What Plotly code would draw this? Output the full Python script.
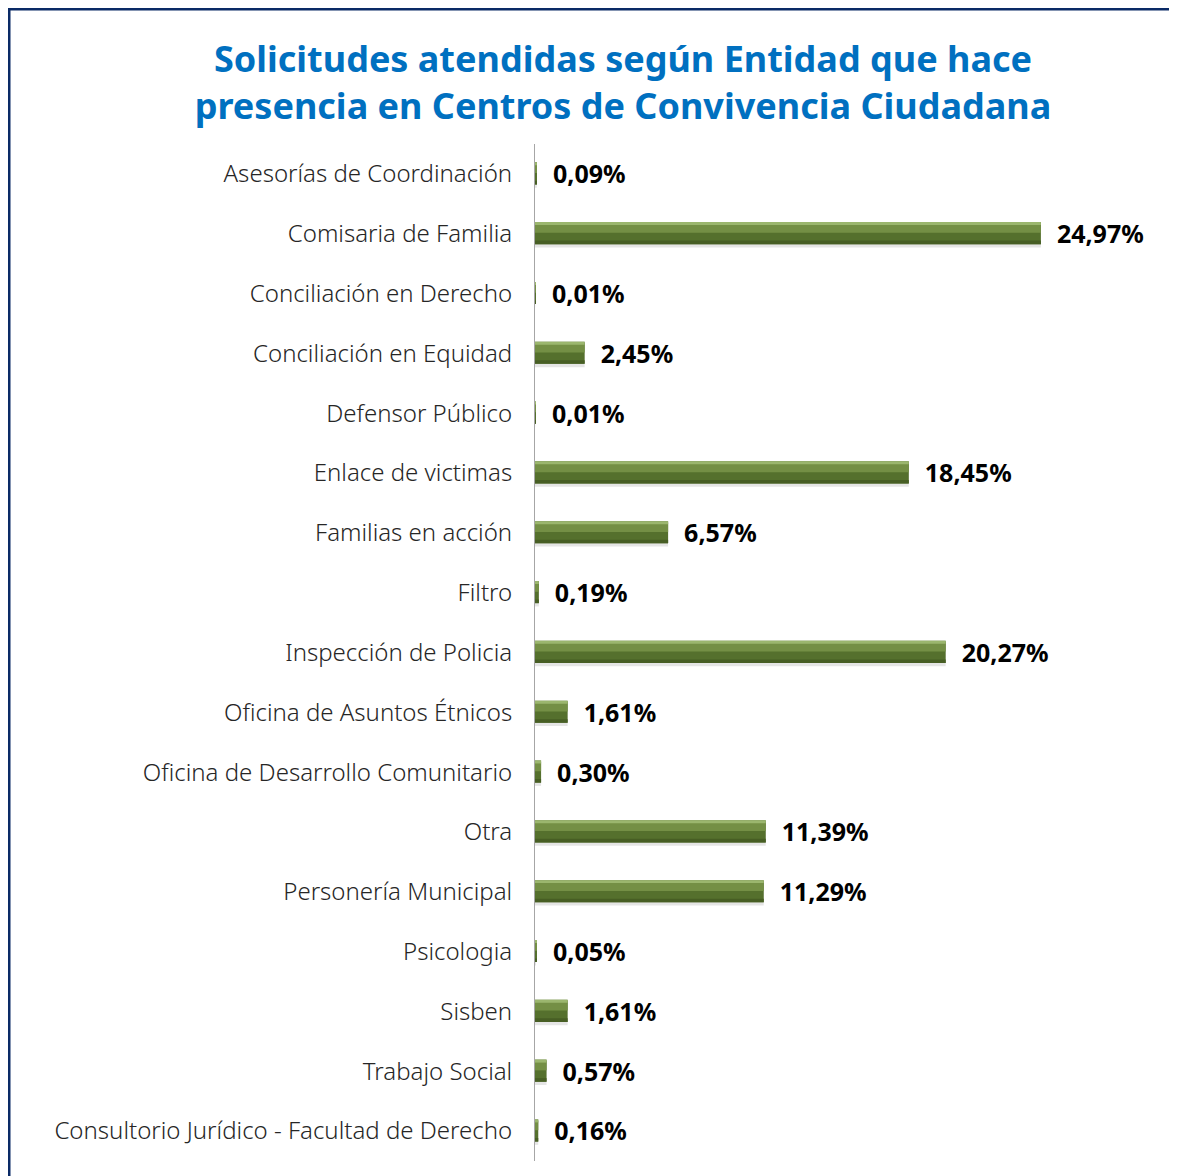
import plotly.graph_objects as go

categories = [
    "Asesorías de Coordinación",
    "Comisaria de Familia",
    "Conciliación en Derecho",
    "Conciliación en Equidad",
    "Defensor Público",
    "Enlace de victimas",
    "Familias en acción",
    "Filtro",
    "Inspección de Policia",
    "Oficina de Asuntos Étnicos",
    "Oficina de Desarrollo Comunitario",
    "Otra",
    "Personería Municipal",
    "Psicologia",
    "Sisben",
    "Trabajo Social",
    "Consultorio Jurídico - Facultad de Derecho",
]
values = [0.09, 24.97, 0.01, 2.45, 0.01, 18.45, 6.57, 0.19, 20.27, 1.61,
          0.30, 11.39, 11.29, 0.05, 1.61, 0.57, 0.16]

title_text = ("Solicitudes atendidas según Entidad que hace<br>"
              "presencia en Centros de Convivencia Ciudadana")

# page has an 8px body margin; work in reference-pixel coords shifted by OFF
OFF = 8
W, H = 1177 - OFF, 1176 - OFF
ML, MR, MT, MB = 535 - OFF, 17, 144 - OFF, 15
PW, PH = W - ML - MR, H - MT - MB
PX_PER_UNIT = 20.26
XMAX = PW / PX_PER_UNIT


def px(xref):
    return (xref - OFF - ML) / PW


def py(yref):
    return (H - MB - (yref - OFF)) / PH


fig = go.Figure()

# soft shadow under bars
fig.add_trace(go.Bar(
    y=categories, x=values, orientation="h",
    width=0.40, offset=-0.17,
    marker=dict(color="rgba(0,0,0,0.10)", line=dict(width=0)),
    hoverinfo="skip", showlegend=False,
))
# base bar
fig.add_trace(go.Bar(
    y=categories, x=values, orientation="h",
    width=0.37, offset=-0.195,
    marker=dict(color="#55702D", line=dict(width=0)),
    text=values, texttemplate="\u00a0\u00a0%{x:.2f}%",
    textposition="outside", cliponaxis=False, constraintext="none",
    textfont=dict(family="Noto Sans", size=25, color="#000000", weight="bold"),
    showlegend=False,
))
# mid highlight band
fig.add_trace(go.Bar(
    y=categories, x=values, orientation="h",
    width=0.16, offset=-0.175,
    marker=dict(color="#748F45", line=dict(width=0)),
    hoverinfo="skip", showlegend=False,
))
# top light edge
fig.add_trace(go.Bar(
    y=categories, x=values, orientation="h",
    width=0.05, offset=-0.195,
    marker=dict(color="#9BB66E", line=dict(width=0)),
    hoverinfo="skip", showlegend=False,
))
# bottom dark edge
fig.add_trace(go.Bar(
    y=categories, x=values, orientation="h",
    width=0.06, offset=0.115,
    marker=dict(color="#475E24", line=dict(width=0)),
    hoverinfo="skip", showlegend=False,
))

fig.update_layout(
    width=W, height=H,
    margin=dict(l=ML, r=MR, t=MT, b=MB),
    paper_bgcolor="white", plot_bgcolor="white",
    barmode="overlay",
    separators=",.",
    title=dict(
        text=title_text,
        x=(623 - OFF) / W, xref="container", xanchor="center",
        y=1 - (72 - OFF) / H, yref="container", yanchor="middle",
        font=dict(family="Noto Sans", size=36, color="#0070C0", weight="bold"),
    ),
    xaxis=dict(range=[0, XMAX], visible=False, fixedrange=True),
    yaxis=dict(
        categoryorder="array", categoryarray=categories,
        autorange="reversed",
        showline=True, linecolor="#A6A6A6", linewidth=1,
        showgrid=False, zeroline=False, ticks="",
        ticklabelstandoff=17,
        tickfont=dict(family="Noto Sans", size=24, color="#262626", weight=300),
    ),
    shapes=[
        dict(type="line", xref="paper", yref="paper",
             x0=px(9), x1=px(9), y0=py(8), y1=py(1200),
             line=dict(color="#0A2A66", width=3)),
        dict(type="line", xref="paper", yref="paper",
             x0=px(8), x1=px(1200), y0=py(9), y1=py(9),
             line=dict(color="#0A2A66", width=3)),
    ],
)

fig.write_html("out.html")
